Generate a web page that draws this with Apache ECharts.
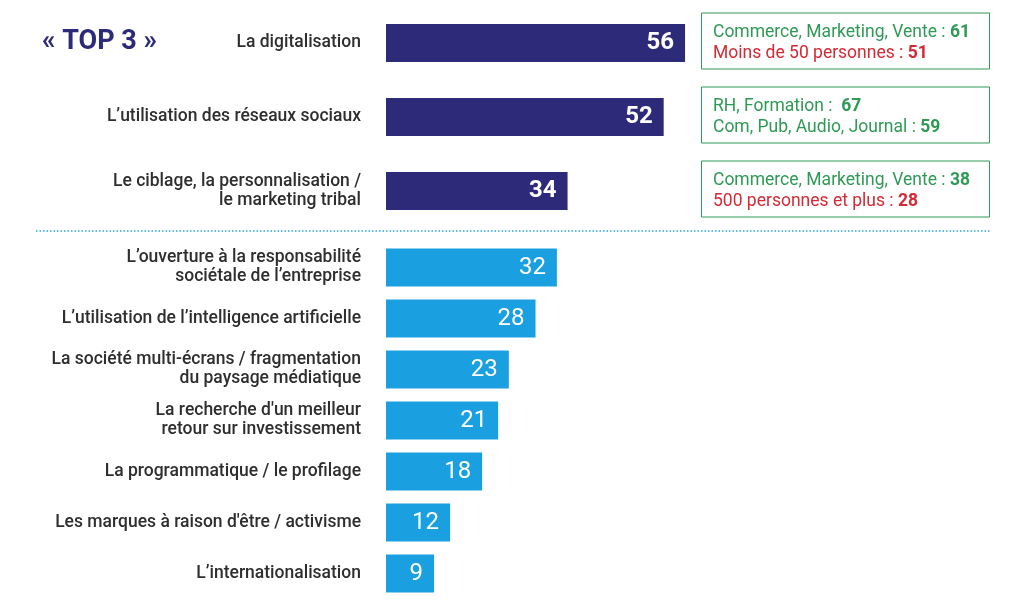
<!DOCTYPE html>
<html>
<head>
<meta charset="utf-8">
<script src="https://cdn.jsdelivr.net/npm/echarts@6/dist/echarts.min.js"></script>
<style>html,body{margin:0;padding:0;background:#fff;}#c{width:1024px;height:607px;}</style>
</head>
<body>
<div id="c"></div>
<script>
const topCategories = ['La digitalisation', 'L’utilisation des réseaux sociaux', 'Le ciblage, la personnalisation /\nle marketing tribal'];
const topValues = [56, 52, 34];
const otherCategories = ['L’ouverture à la responsabilité\nsociétale de l’entreprise', 'L’utilisation de l’intelligence artificielle', 'La société multi-écrans / fragmentation\ndu paysage médiatique', 'La recherche d\'un meilleur\nretour sur investissement', 'La programmatique / le profilage', 'Les marques à raison d\'être / activisme', 'L’internationalisation'];
const otherValues = [32, 28, 23, 21, 18, 12, 9];
const annotLabels = [
  ['Commerce, Marketing, Vente : ', 'Moins de 50 personnes : '],
  ['RH, Formation :  ', 'Com, Pub, Audio, Journal : '],
  ['Commerce, Marketing, Vente : ', '500 personnes et plus : ']
];
const annotValues = [['61', '51'], ['67', '59'], ['38', '28']];
const annotKinds = [['g', 'r'], ['g', 'g'], ['g', 'r']];
const titleText = '« TOP 3 »';

const NAVY = '#2d2a7a', BLUE = '#1a9fe0', GREEN = '#2f9a55', RED = '#d42a35', TXT = '#2e2e2e';
const FONT = 'Roboto';
const chart = echarts.init(document.getElementById('c'));

const yAxisCommon = {
  type: 'category', inverse: true,
  axisLine: {show: false}, axisTick: {show: false}, splitLine: {show: false},
  axisLabel: {margin: 25, fontFamily: FONT, fontSize: 17.5, fontWeight: 500, color: TXT, lineHeight: 19, align: 'right'}
};
const xAxisCommon = {type: 'value', min: 0, max: 100, show: false};

chart.setOption({
  animation: false,
  title: {text: titleText, left: 37, top: 24, textStyle: {fontFamily: FONT, fontSize: 27, fontWeight: 'bold', color: NAVY}},
  grid: [
    {left: 386, width: 534, top: 6, height: 222},
    {left: 386, width: 534, top: 242, height: 357}
  ],
  xAxis: [Object.assign({gridIndex: 0}, xAxisCommon), Object.assign({gridIndex: 1}, xAxisCommon)],
  yAxis: [
    Object.assign({gridIndex: 0, data: topCategories}, yAxisCommon),
    Object.assign({gridIndex: 1, data: otherCategories}, yAxisCommon)
  ],
  series: [
    {type: 'bar', xAxisIndex: 0, yAxisIndex: 0, data: topValues, barWidth: 38,
     itemStyle: {color: NAVY},
     label: {show: true, position: 'insideRight', distance: 11, color: '#fff', fontFamily: FONT, fontSize: 24, fontWeight: 'bold'}},
    {type: 'bar', xAxisIndex: 1, yAxisIndex: 1, data: otherValues, barWidth: 38,
     itemStyle: {color: BLUE},
     label: {show: true, position: 'insideRight', distance: 11, color: '#fff', fontFamily: FONT, fontSize: 24}}
  ]
});

const graphics = [{
  type: 'line', shape: {x1: 36, y1: 231, x2: 990, y2: 231},
  style: {stroke: '#2aa8dc', lineWidth: 1.5, lineDash: [1.5, 2]}
}];
topCategories.forEach((cat, i) => {
  const cy = chart.convertToPixel({yAxisIndex: 0}, cat) - 2;
  graphics.push({type: 'rect', shape: {x: 701.5, y: cy - 28, width: 288, height: 56},
    style: {fill: '#fff', stroke: GREEN, lineWidth: 1}});
  [0, 1].forEach(j => {
    const col = annotKinds[i][j] === 'g' ? GREEN : RED;
    graphics.push({type: 'text', x: 713, y: cy + (j === 0 ? -8 : 13),
      style: {
        text: '{a|' + annotLabels[i][j] + '}{b|' + annotValues[i][j] + '}',
        verticalAlign: 'middle', align: 'left', fill: col,
        rich: {
          a: {fontFamily: FONT, fontSize: 17.5, fill: col},
          b: {fontFamily: FONT, fontSize: 17.5, fill: col, fontWeight: 'bold'}
        }
      }});
  });
});
chart.setOption({graphic: graphics});
</script>
</body>
</html>
